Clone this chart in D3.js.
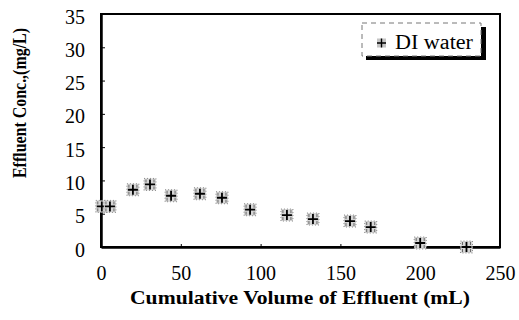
<!DOCTYPE html>
<html>
<head>
<meta charset="utf-8">
<script src="https://cdn.jsdelivr.net/npm/d3@7"></script>
<style>
  html, body { margin: 0; padding: 0; background: #fff; }
  svg { display: block; }
</style>
</head>
<body>
<div id="chart"></div>
<script>
const volume = [0.5, 5.6, 20, 30.7, 43.9, 62, 75.8, 93.4, 116.5, 132.8, 156, 169, 200, 229];
const conc = [6.1, 6.1, 8.6, 9.4, 7.7, 8.0, 7.4, 5.6, 4.8, 4.2, 3.9, 3.0, 0.6, 0];
const xTicks = [0, 50, 100, 150, 200, 250];
const yTicks = [0, 5, 10, 15, 20, 25, 30, 35];
const seriesName = "DI water";

const serif = "'Liberation Serif', 'Times New Roman', Times, serif";
const width = 519, height = 320;
const margin = { left: 101, right: 19, top: 14, bottom: 73 };

const svg = d3.select("#chart").append("svg")
    .attr("width", width)
    .attr("height", height);

const x = d3.scaleLinear().domain([0, 250]).range([margin.left, width - margin.right]);
const y = d3.scaleLinear().domain([0, 35]).range([height - margin.bottom, margin.top]);

// frame
svg.append("rect")
    .attr("x", x(0)).attr("y", y(35))
    .attr("width", x(250) - x(0)).attr("height", y(0) - y(35))
    .attr("fill", "none").attr("stroke", "#000").attr("stroke-width", 2);

// y axis, ticks inward
const yAxis = svg.append("g")
    .attr("transform", `translate(${x(0)},0)`)
    .call(d3.axisLeft(y).tickValues(yTicks).tickSizeInner(-4).tickSizeOuter(0).tickPadding(16));
yAxis.select(".domain").attr("stroke-width", 2.5);
yAxis.selectAll("text").attr("dy", "0.45em")
    .style("font-size", "20px").style("font-family", serif).attr("fill", "#000");

// x axis, ticks inward
const xAxis = svg.append("g")
    .attr("transform", `translate(0,${y(0)})`)
    .call(d3.axisBottom(x).tickValues(xTicks).tickSizeInner(-3).tickSizeOuter(0).tickPadding(19));
xAxis.select(".domain").attr("stroke-width", 2.5);
xAxis.selectAll("text")
    .style("font-size", "20px").style("font-family", serif).attr("fill", "#000");

// marker: grey dotted square with black cross
function marker(g, cx, cy) {
    g.append("rect")
        .attr("x", cx - 6).attr("y", cy - 6)
        .attr("width", 12).attr("height", 12)
        .attr("fill", "#d6d6d6").attr("stroke", "#8a8a8a")
        .attr("stroke-width", 1).attr("stroke-dasharray", "1,2");
    g.append("path")
        .attr("d", `M${cx - 4},${cy - 5}V${cy - 2}M${cx + 4},${cy - 5}V${cy - 2}` +
            `M${cx - 4},${cy + 2}V${cy + 5}M${cx + 4},${cy + 2}V${cy + 5}`)
        .attr("stroke", "#666").attr("stroke-width", 1).attr("fill", "none");
    g.append("path")
        .attr("d", `M${cx - 5},${cy}H${cx + 5}M${cx},${cy - 5}V${cy + 5}`)
        .attr("stroke", "#000").attr("stroke-width", 1.8);
}

const pts = svg.append("g");
volume.forEach((v, i) => marker(pts, x(v), y(conc[i])));

// legend with shadow
const lg = svg.append("g");
lg.append("rect").attr("x", 366).attr("y", 27).attr("width", 120).attr("height", 33).attr("fill", "#000");
lg.append("rect").attr("x", 362).attr("y", 23).attr("width", 119).attr("height", 33)
    .attr("fill", "#fff").attr("stroke", "#777").attr("stroke-width", 1).attr("stroke-dasharray", "5,4");
const lm = lg.append("g");
lm.append("rect").attr("x", 377).attr("y", 38.5).attr("width", 9).attr("height", 9).attr("fill", "#c4c4c4");
lm.append("path").attr("d", "M377,43H386M381.5,38.5V47.5").attr("stroke", "#000").attr("stroke-width", 1.4);
lg.append("text").attr("x", 395).attr("y", 49)
    .attr("textLength", 78).attr("lengthAdjust", "spacingAndGlyphs")
    .style("font-size", "20px").style("font-family", serif).text(seriesName);

// axis titles
svg.append("text")
    .attr("x", 300).attr("y", 304)
    .attr("text-anchor", "middle")
    .attr("textLength", 340).attr("lengthAdjust", "spacingAndGlyphs")
    .style("font-size", "19px").style("font-weight", "bold").style("font-family", serif)
    .text("Cumulative Volume of Effluent (mL)");

svg.append("text")
    .attr("transform", "translate(26,103) rotate(-90)")
    .attr("text-anchor", "middle")
    .attr("textLength", 150).attr("lengthAdjust", "spacingAndGlyphs")
    .style("font-size", "18px").style("font-weight", "bold").style("font-family", serif)
    .text("Effluent Conc.,(mg/L)");
</script>
</body>
</html>
